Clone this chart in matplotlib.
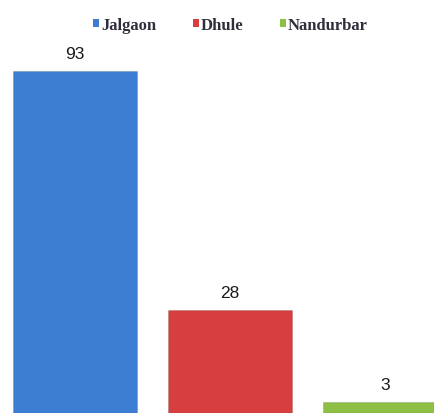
import matplotlib
matplotlib.use("Agg")
import matplotlib.pyplot as plt
from matplotlib.patches import Patch

districts = ["Jalgaon", "Dhule", "Nandurbar"]
counts = [93, 28, 3]
colors = ["#3d7dd2", "#d63e3f", "#8dbf45"]

fig = plt.figure(figsize=(4.34, 4.14), dpi=100)
ax = fig.add_axes([0, 0, 1, 1])

positions = list(range(len(districts)))
bars = ax.bar(positions, counts, width=0.8, color=colors,
              edgecolor=[(0, 0, 0, 0.12)] * 3, linewidth=0.8)

for x, v in zip(positions, counts):
    ax.text(x, v + 3.6, str(v), ha="center", va="baseline",
            fontsize=12.5, family="Liberation Sans", color="#1a1a1a")

ax.set_xlim(-0.484, 2.316)
ax.set_ylim(0, 112.5)
ax.axis("off")

handles = [Patch(facecolor=c, edgecolor="none") for c in colors]
leg = fig.legend(handles, districts, loc="center", bbox_to_anchor=(0.531, 0.937),
                 ncol=3, frameon=False, handlelength=0.35, handleheight=0.35,
                 handletextpad=0.12, columnspacing=2.2,
                 prop={"family": "Liberation Serif", "size": 12, "weight": "semibold"})
for t in leg.get_texts():
    t.set_color("#2e2e3c")

fig.savefig("out.png", dpi=100)
